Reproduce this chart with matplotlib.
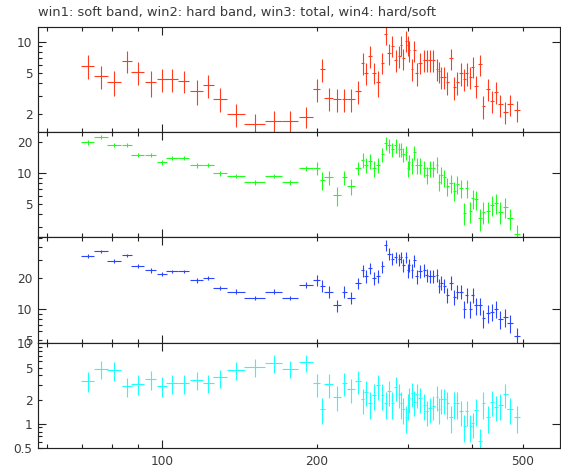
import matplotlib
matplotlib.use("Agg")
import matplotlib.pyplot as plt
from matplotlib.ticker import FixedLocator, FuncFormatter

# time bins (bin centre, half width)
time_mid = [
    71.9, 76.4, 80.9, 85.7, 89.9, 95.2, 100.0, 104.8, 110.3, 116.9, 123.1, 129.7,
    139.3, 151.6, 165.1, 177.3, 190.4,
    199.7, 204.8, 210.7, 218.9, 225.6, 232.4, 240.1, 245.2, 248.9, 253.3, 257.8,
    262.9, 267.6, 271.7, 275.7, 279.8, 284.1, 288.4, 291.0, 293.9, 297.1, 299.7,
    301.9, 305.1, 308.7, 312.0, 316.7, 322.8, 326.3, 331.1, 336.1, 341.2, 344.2,
    347.8, 352.5, 357.7, 363.2, 368.6, 374.1, 379.8, 385.4, 390.1, 395.9, 400.6,
    406.6, 413.9, 420.1, 428.4, 436.1, 444.6, 452.5, 462.7, 473.2, 487.5,
]
time_half = [
    2.0, 2.4, 2.6, 1.9, 2.5, 2.5, 2.25, 2.7, 2.85, 3.5, 2.95, 3.85, 5.5, 7.05,
    6.25, 6.5, 6.05,
    3.0, 2.0, 4.2, 4.1, 2.5, 4.3, 3.2, 1.8, 2.0, 2.2, 2.2, 2.4, 2.2, 2.0, 2.0,
    2.1, 2.1, 1.8, 1.4, 1.5, 1.5, 1.2, 1.4, 1.7, 1.8, 2.0, 2.8, 2.4, 2.2, 2.4,
    2.5, 2.0, 1.6, 2.2, 2.5, 2.7, 2.7, 2.7, 2.8, 2.8, 2.5, 2.6, 2.8, 2.6, 3.5,
    3.5, 3.5, 4.0, 4.0, 4.0, 5.0, 5.0, 6.0, 6.0,
]

# win1: soft band
soft_rate = [
    5.88, 4.68, 4.09, 6.56, 5.07, 4.09, 4.35, 4.35, 4.22, 3.35, 3.80, 2.81, 2.01,
    1.61, 1.74, 1.74, 1.90,
    3.49, 5.42, 2.89, 2.81, 2.81, 2.81, 3.35, 6.28, 5.04, 7.33, 5.04, 4.06, 6.28,
    11.8, 7.73, 9.15, 6.67, 7.33, 9.29, 6.92, 10.2, 9.29, 8.32, 5.46, 8.32, 4.97,
    6.28, 6.67, 6.67, 6.67, 6.67, 5.46, 5.2, 4.60, 4.60, 4.06, 6.92, 3.64, 4.06,
    4.97, 4.38, 4.97, 4.60, 5.75, 3.78, 6.05, 2.40, 3.51, 2.69, 3.30, 2.49, 2.12,
    2.49, 2.20,
]
soft_err = [
    1.5, 1.2, 1.1, 1.6, 1.25, 1.15, 1.1, 1.1, 1.0, 0.9, 0.95, 0.73, 0.5, 0.4,
    0.42, 0.42, 0.44,
    0.88, 1.35, 0.72, 0.7, 0.7, 0.7, 0.83, 1.5, 1.2, 1.7, 1.15, 1.1, 1.4, 2.6,
    1.8, 2.1, 1.6, 1.7, 2.1, 1.6, 2.3, 2.1, 1.9, 1.3, 1.9, 1.2, 1.45, 1.55, 1.55,
    1.55, 1.55, 1.3, 1.2, 1.1, 1.1, 1.0, 1.6, 0.9, 1.0, 1.2, 1.05, 1.2, 1.1, 1.3,
    0.9, 1.4, 0.6, 0.85, 0.65, 0.8, 0.6, 0.52, 0.55, 0.5,
]

# win2: hard band
hard_rate = [
    20.0, 22.6, 18.8, 18.8, 15.1, 15.1, 12.8, 14.0, 14.0, 12.0, 12.0, 10.0, 9.41,
    8.18, 9.48, 8.18, 11.2,
    11.2, 8.61, 9.14, 6.15, 9.14, 7.53, 11.2, 13.5, 12.0, 13.2, 11.2, 12.0, 15.3,
    19.8, 18.8, 17.1, 18.8, 17.1, 17.1, 15.3, 16.0, 11.2, 13.0, 12.0, 16.0, 12.0,
    12.0, 11.2, 9.63, 11.2, 11.2, 12.2, 8.29, 9.63, 9.14, 7.53, 8.1, 6.78, 7.87,
    7.15, 4.15, 7.15, 4.31, 5.72, 5.59, 3.66, 4.24, 4.3, 4.93, 5.18, 4.24, 4.74,
    3.66, 2.56,
]
hard_err = [
    1.0, 0.9, 0.85, 0.85, 0.75, 0.7, 0.65, 0.65, 0.65, 0.6, 0.55, 0.5, 0.45,
    0.4, 0.45, 0.4, 0.55,
    1.6, 1.7, 1.5, 1.3, 1.5, 1.3, 1.6, 2.2, 2.0, 2.1, 1.9, 2.0, 2.4, 3.0, 2.9,
    2.7, 2.9, 2.7, 2.7, 2.5, 2.6, 2.0, 2.2, 2.1, 2.6, 2.1, 2.1, 2.0, 1.8, 2.0,
    2.0, 2.1, 1.6, 1.8, 1.7, 1.5, 1.6, 1.4, 1.5, 1.4, 1.0, 1.4, 1.0, 1.2, 1.2,
    0.9, 1.0, 1.0, 1.1, 1.1, 1.0, 1.05, 0.85, 0.6,
]

# win3: total
total_rate = [
    32.9, 36.6, 29.2, 33.4, 26.2, 23.8, 22.1, 23.3, 23.3, 19.0, 20.0, 16.0, 14.8,
    12.8, 14.8, 12.8, 17.2,
    19.0, 16.9, 14.8, 10.8, 14.8, 12.8, 17.9, 23.8, 20.9, 25.1, 20.0, 20.9, 26.1,
    42.0, 34.7, 31.0, 32.2, 30.5, 32.2, 27.1, 32.2, 23.8, 26.7, 23.8, 29.9, 20.9,
    23.3, 24.2, 21.6, 20.9, 20.9, 21.6, 16.9, 18.0, 16.9, 13.7, 18.0, 13.0, 14.8,
    14.8, 10.0, 13.7, 10.0, 13.7, 10.8, 10.8, 8.09, 9.14, 9.4, 10.0, 7.98, 8.27,
    7.28, 5.46,
]
total_err = [
    1.4, 1.4, 1.3, 1.35, 1.2, 1.1, 1.0, 1.0, 1.0, 0.9, 0.9, 0.8, 0.75, 0.65,
    0.7, 0.65, 1.0,
    2.3, 2.2, 1.9, 1.5, 1.9, 1.7, 2.3, 3.2, 2.9, 3.3, 2.8, 2.9, 3.5, 5.0, 4.5,
    4.2, 4.3, 4.2, 4.3, 3.9, 4.3, 3.5, 3.8, 3.5, 4.1, 3.2, 3.4, 3.5, 3.2, 3.1,
    3.1, 3.2, 2.7, 2.8, 2.7, 2.3, 2.8, 2.2, 2.4, 2.4, 1.9, 2.3, 1.9, 2.3, 2.0,
    2.0, 1.6, 1.8, 1.8, 1.9, 1.6, 1.6, 1.5, 1.1,
]

# win4: hard/soft
ratio = [
    3.43, 4.86, 4.64, 2.95, 3.15, 3.57, 2.98, 3.18, 3.18, 3.50, 3.24, 3.77, 4.73,
    5.09, 5.70, 4.86, 5.86,
    3.18, 1.54, 3.12, 2.18, 3.24, 2.71, 3.43, 2.03, 2.51, 1.81, 2.29, 3.0, 2.29,
    1.8, 2.53, 1.81, 2.89, 2.35, 1.81, 1.53, 1.22, 1.73, 2.08, 2.40, 1.89, 2.35,
    2.08, 1.73, 1.43, 1.57, 1.65, 2.18, 1.53, 2.03, 2.03, 1.81, 1.22, 1.81, 1.81,
    1.43, 0.95, 1.43, 0.94, 1.01, 1.50, 0.61, 1.81, 1.22, 1.89, 1.64, 1.73, 2.35,
    1.53, 1.22,
]
ratio_err = [
    0.95, 1.25, 1.2, 0.8, 0.85, 0.95, 0.8, 0.85, 0.85, 0.9, 0.85, 0.95, 1.2,
    1.3, 1.4, 1.2, 1.4,
    1.0, 0.55, 1.0, 0.75, 1.0, 0.9, 1.05, 0.7, 0.85, 0.65, 0.8, 1.0, 0.8, 0.65,
    0.85, 0.65, 0.95, 0.8, 0.65, 0.55, 0.45, 0.6, 0.7, 0.8, 0.65, 0.8, 0.7, 0.6,
    0.5, 0.55, 0.55, 0.75, 0.55, 0.7, 0.7, 0.65, 0.45, 0.65, 0.65, 0.5, 0.35,
    0.5, 0.35, 0.35, 0.55, 0.25, 0.65, 0.45, 0.65, 0.55, 0.6, 0.8, 0.55, 0.45,
]

TITLE = "win1: soft band, win2: hard band, win3: total, win4: hard/soft"
X_LABELS = {100: "100", 200: "200", 500: "500"}
TEXT_COLOR = "#3a3a3a"
FRAME_COLOR = "#222222"

panels = [
    # values, errors, colour, ylim, major y, minor y, y labels
    (soft_rate, soft_err, "#ff3c1e", (1.35, 13.9), [10],
     [2, 3, 4, 5, 6, 7, 8, 9], {2: "2", 5: "5", 10: "10"}),
    (hard_rate, hard_err, "#1cff1c", (2.4, 25.2), [10],
     [3, 4, 5, 6, 7, 8, 9, 20], {5: "5", 10: "10", 20: "20"}),
    (total_rate, total_err, "#2a46ff", (4.66, 50.3), [10],
     [5, 6, 7, 8, 9, 20, 30, 40, 50], {5: "5", 10: "10", 20: "20"}),
    (ratio, ratio_err, "#1cffff", (0.5, 10.2), [1, 10],
     [0.5, 0.6, 0.7, 0.8, 0.9, 2, 3, 4, 5, 6, 7, 8, 9],
     {0.5: "0.5", 1: "1", 2: "2", 5: "5", 10: "10"}),
]


def label_formatter(labels):
    return FuncFormatter(lambda v, pos: labels.get(round(v, 3), ""))


fig = plt.figure(figsize=(5.61, 4.70), dpi=100)
gs = fig.add_gridspec(4, 1, left=38 / 561, right=560 / 561, top=1 - 26.7 / 470,
                      bottom=1 - 448 / 470, hspace=0)

axes = []
for i, (vals, errs, color, ylim, ymaj, ymin, ylab) in enumerate(panels):
    ax = fig.add_subplot(gs[i])
    axes.append(ax)
    ax.errorbar(time_mid, vals, xerr=time_half, yerr=errs, fmt="none",
                ecolor=color, elinewidth=0.8, capsize=0)
    ax.set_xscale("log")
    ax.set_yscale("log")
    ax.set_xlim(57.6, 591)
    ax.set_ylim(*ylim)

    ax.xaxis.set_major_locator(FixedLocator([100]))
    ax.xaxis.set_minor_locator(FixedLocator([60, 70, 80, 90, 200, 300, 400, 500]))
    if i == 3:
        ax.xaxis.set_major_formatter(label_formatter(X_LABELS))
        ax.xaxis.set_minor_formatter(label_formatter(X_LABELS))
    else:
        ax.xaxis.set_major_formatter(FuncFormatter(lambda v, p: ""))
        ax.xaxis.set_minor_formatter(FuncFormatter(lambda v, p: ""))

    ax.yaxis.set_major_locator(FixedLocator(ymaj))
    ax.yaxis.set_minor_locator(FixedLocator(ymin))
    ax.yaxis.set_major_formatter(label_formatter(ylab))
    ax.yaxis.set_minor_formatter(label_formatter(ylab))

    ax.tick_params(which="both", direction="in", top=True, bottom=True,
                   color=FRAME_COLOR, labelcolor=TEXT_COLOR, labelsize=8.7)
    ax.tick_params(which="major", length=6, width=0.8, right=True)
    ax.tick_params(which="minor", length=3, width=0.8, right=False)
    ax.tick_params(axis="y", which="both", pad=4)
    ax.tick_params(axis="x", which="both", pad=5)
    for spine in ax.spines.values():
        spine.set_color(FRAME_COLOR)
        spine.set_linewidth(0.85)

fig.text(38 / 561, 1 - 12 / 470, TITLE, ha="left", va="center",
         fontsize=9.4, color=TEXT_COLOR)

fig.savefig("out.png", dpi=100)
